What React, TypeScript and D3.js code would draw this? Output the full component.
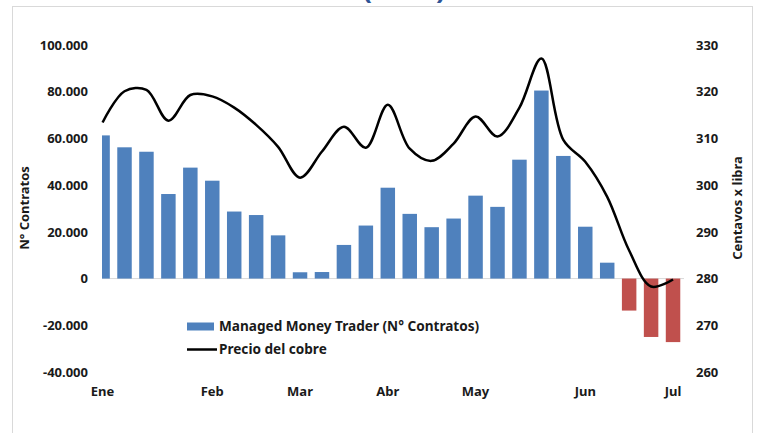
import React, { useEffect, useRef } from 'react';
import * as d3 from 'd3';

// one label per weekly observation, month name on the first week shown
const weekLabels = [
  'Ene', '', '', '', '', 'Feb', '', '', '', 'Mar', '', '', '', 'Abr', '',
  '', '', 'May', '', '', '', '', 'Jun', '', '', '', 'Jul',
];

// Managed Money Trader net position (N° contratos)
const contratos = [
  61300, 56200, 54300, 36200, 47500, 41900, 28700, 27200, 18500, 2700, 2800,
  14400, 22700, 38900, 27700, 22000, 25700, 35500, 30700, 50900, 80500, 52500,
  22200, 6800, -13700, -25000, -27200,
];

// Precio del cobre (centavos x libra)
const precio = [
  313.4, 320.1, 320.4, 313.8, 319.3, 319.0, 316.6, 312.9, 308.2, 301.6, 307.2,
  312.5, 308.0, 317.2, 307.8, 305.2, 308.9, 314.7, 310.4, 316.6, 327.1, 309.7,
  305.0, 297.5, 286.0, 278.3, 279.8,
];

const leftTicks = [-40000, -20000, 0, 20000, 40000, 60000, 80000, 100000];
const rightTicks = [260, 270, 280, 290, 300, 310, 320, 330];

const W = 761;
const H = 433;

const App = () => {
  const svgRef = useRef<SVGSVGElement>(null);

  useEffect(() => {
    const svg = d3.select(svgRef.current);
    svg.selectAll('*').remove();

    const font = '"Noto Sans", "DejaVu Sans", sans-serif';
    const plot = { left: 102, right: 684, top: 45, bottom: 372 };

    const locale = d3.formatLocale({
      decimal: ',',
      thousands: '.',
      grouping: [3],
      currency: ['', ''],
      minus: '-',
    });
    const fmt = locale.format(',');

    const idx = weekLabels.map((_, i) => i);
    const x = d3
      .scaleBand<number>()
      .domain(idx)
      .range([91.6, plot.right])
      .paddingInner(0.34)
      .paddingOuter(0.17);

    const y = d3.scaleLinear().domain([-40000, 100000]).range([plot.bottom, plot.top]);
    const y2 = d3.scaleLinear().domain([260, 330]).range([plot.bottom, plot.top]);

    // chart frame
    svg
      .append('rect')
      .attr('x', 12.5)
      .attr('y', 6.5)
      .attr('width', 740)
      .attr('height', 440)
      .attr('fill', '#fff')
      .attr('stroke', '#d9d9d9');

    // title, mostly cut off at the top of the picture (as in the source)
    svg
      .append('text')
      .attr('x', 404)
      .attr('y', -1)
      .attr('text-anchor', 'middle')
      .attr('font-family', font)
      .attr('font-weight', 'bold')
      .attr('font-size', 28)
      .attr('fill', '#2f5597')
      .text('(2019)');

    svg
      .append('defs')
      .append('clipPath')
      .attr('id', 'plot-clip')
      .append('rect')
      .attr('x', plot.left)
      .attr('y', 0)
      .attr('width', plot.right - plot.left)
      .attr('height', H);

    // zero line
    svg
      .append('line')
      .attr('x1', plot.left)
      .attr('x2', plot.right)
      .attr('y1', y(0))
      .attr('y2', y(0))
      .attr('stroke', '#d9d9d9')
      .attr('stroke-width', 1);

    svg
      .append('g')
      .attr('clip-path', 'url(#plot-clip)')
      .selectAll('rect')
      .data(contratos)
      .join('rect')
      .attr('x', (_, i) => x(i)!)
      .attr('width', x.bandwidth())
      .attr('y', d => y(Math.max(0, d)))
      .attr('height', d => Math.abs(y(d) - y(0)))
      .attr('fill', d => (d < 0 ? '#c0504d' : '#4f81bd'));

    const line = d3
      .line<number>()
      .x((_, i) => x(i)! + x.bandwidth() / 2)
      .y(d => y2(d))
      .curve(d3.curveCatmullRom.alpha(0.5));

    svg
      .append('path')
      .datum(precio)
      .attr('d', line)
      .attr('fill', 'none')
      .attr('stroke', '#000')
      .attr('stroke-width', 2.5);

    const styleAxis = (g: d3.Selection<SVGGElement, unknown, null, undefined>) => {
      g.select('.domain').remove();
      g.selectAll('.tick line').remove();
      g.selectAll('text')
        .attr('font-family', font)
        .attr('font-weight', 'bold')
        .attr('font-size', 13)
        .attr('fill', '#1a1a1a');
    };

    svg
      .append('g')
      .attr('transform', 'translate(96,0)')
      .call(d3.axisLeft(y).tickValues(leftTicks).tickFormat(d => fmt(d as number)).tickSize(0).tickPadding(8))
      .call(styleAxis);

    svg
      .append('g')
      .attr('transform', 'translate(688,0)')
      .call(d3.axisRight(y2).tickValues(rightTicks).tickSize(0).tickPadding(8))
      .call(styleAxis);

    svg
      .append('g')
      .attr('transform', `translate(0,${plot.bottom + 12})`)
      .call(
        d3
          .axisBottom(x)
          .tickValues(idx.filter(i => weekLabels[i] !== ''))
          .tickFormat(i => weekLabels[i as number])
          .tickSize(0)
          .tickPadding(3)
      )
      .call(styleAxis);

    // axis titles
    svg
      .append('text')
      .attr('transform', `translate(29,208) rotate(-90)`)
      .attr('text-anchor', 'middle')
      .attr('font-family', font)
      .attr('font-weight', 'bold')
      .attr('font-size', 13)
      .attr('fill', '#1a1a1a')
      .text('N° Contratos');

    svg
      .append('text')
      .attr('transform', `translate(742,208) rotate(-90)`)
      .attr('text-anchor', 'middle')
      .attr('font-family', font)
      .attr('font-weight', 'bold')
      .attr('font-size', 13)
      .attr('fill', '#1a1a1a')
      .text('Centavos x libra');

    // legend
    const legend = svg
      .append('g')
      .attr('font-family', font)
      .attr('font-weight', 'bold')
      .attr('font-size', 13.6)
      .attr('fill', '#1a1a1a');
    legend.append('rect').attr('x', 187).attr('y', 322.5).attr('width', 27).attr('height', 8).attr('fill', '#4f81bd');
    legend.append('text').attr('x', 219).attr('y', 331).text('Managed Money Trader (N° Contratos)');
    legend
      .append('line')
      .attr('x1', 187)
      .attr('x2', 217)
      .attr('y1', 349.5)
      .attr('y2', 349.5)
      .attr('stroke', '#000')
      .attr('stroke-width', 2.5);
    legend.append('text').attr('x', 219).attr('y', 354).text('Precio del cobre');
  }, []);

  return (
    <div style={{ position: 'absolute', left: 0, top: 0 }}>
      <svg ref={svgRef} width={W} height={H} style={{ display: 'block', background: '#fff' }} />
    </div>
  );
};

export default App;
